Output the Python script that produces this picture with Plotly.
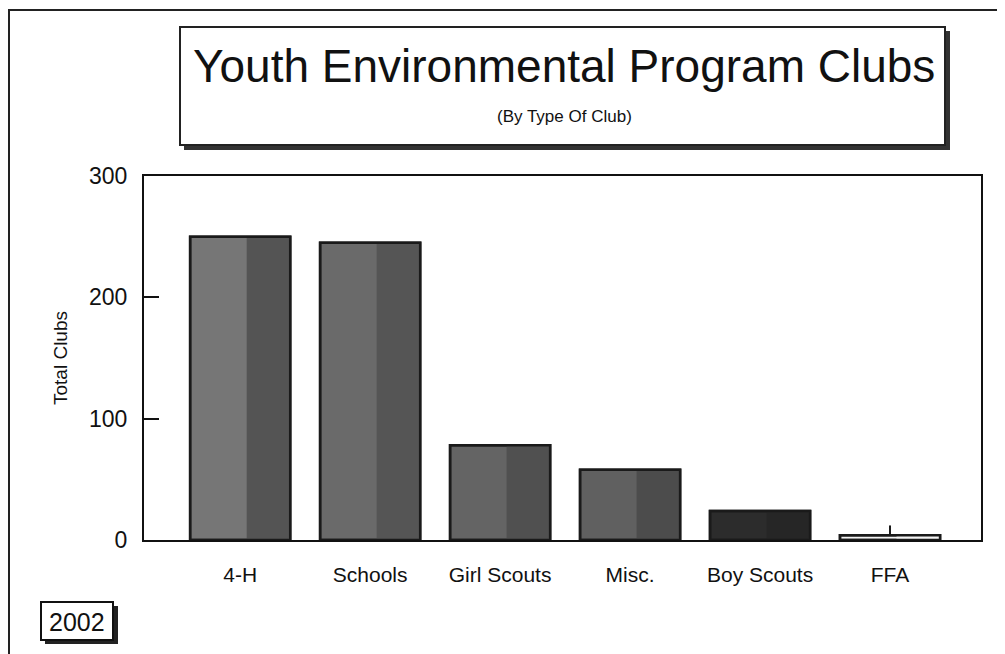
import plotly.graph_objects as go

categories = ["4-H", "Schools", "Girl Scouts", "Misc.", "Boy Scouts", "FFA"]
total_clubs = [250, 245, 78, 58, 24, 4]
top_whisker = [0, 0, 0, 0, 0, 8]
y_ticks = [0, 100, 200, 300]

light_colors = ["#767676", "#6a6a6a", "#646464", "#606060", "#2c2c2c", "#f4f4f4"]
dark_colors = ["#545454", "#555555", "#505050", "#4c4c4c", "#262626", "#f4f4f4"]

FONT = "Liberation Sans, Arial, Helvetica, sans-serif"

# page body has an 8px margin: figure is drawn offset by 8px
OFF = 8
W, H = 1005, 654
L, R, T, B = 144 - OFF, W - (981 - OFF), 176 - OFF, H - (540 - OFF)
pw, ph = W - L - R, H - T - B


def px(x):
    return (x - OFF - L) / pw


def py(y):
    return (T + ph - (y - OFF)) / ph


fig = go.Figure()
fig.add_trace(go.Bar(
    x=categories, y=total_clubs, width=0.77, offset=-0.385,
    marker=dict(color=light_colors, line=dict(color="#1a1a1a", width=2.5)),
    showlegend=False, hoverinfo="x+y",
))
fig.add_trace(go.Bar(
    x=categories, y=total_clubs, width=0.33, offset=0.05,
    marker=dict(color=dark_colors, line=dict(width=0)),
    showlegend=False, hoverinfo="skip",
))
fig.add_trace(go.Bar(
    x=categories, y=total_clubs, width=0.77, offset=-0.385,
    marker=dict(color="rgba(0,0,0,0)", line=dict(color="#1a1a1a", width=2.5)),
    error_y=dict(type="data", array=top_whisker, arrayminus=[0] * len(top_whisker),
                 width=0, thickness=2, color="#1a1a1a"),
    showlegend=False, hoverinfo="skip",
))

fig.update_layout(
    width=W, height=H,
    margin=dict(l=L, r=R, t=T, b=B),
    paper_bgcolor="white", plot_bgcolor="white",
    barmode="overlay",
    font=dict(family=FONT, color="#111111"),
    xaxis=dict(
        range=[-0.74, 5.7], showline=True, linecolor="#111111", linewidth=2,
        mirror=True, ticks="", showgrid=False,
        tickfont=dict(size=21, family=FONT), ticklabelstandoff=15,
    ),
    yaxis=dict(
        range=[0, 300], tickvals=y_ticks, showline=True, linecolor="#111111",
        linewidth=2, mirror=True, ticks="inside", ticklen=15, tickwidth=2,
        tickcolor="#111111", showgrid=False, zeroline=False,
        tickfont=dict(size=23, family=FONT), ticklabelstandoff=10,
        title=dict(text="Total Clubs", font=dict(size=19, family=FONT), standoff=16),
    ),
)

shapes = [
    # page border top and left
    dict(type="line", x0=px(8), x1=px(1010), y0=py(10), y1=py(10), line=dict(color="#222", width=2)),
    dict(type="line", x0=px(9), x1=px(9), y0=py(10), y1=py(660), line=dict(color="#222", width=2)),
    # title box with shadow
    dict(type="rect", x0=px(184), x1=px(950), y0=py(31), y1=py(150), fillcolor="#333", line=dict(width=0)),
    dict(type="rect", x0=px(180), x1=px(945), y0=py(27), y1=py(145), fillcolor="white",
         line=dict(color="#222", width=2)),
    # 2002 box with shadow
    dict(type="rect", x0=px(45), x1=px(118), y0=py(606), y1=py(644), fillcolor="#222", line=dict(width=0)),
    dict(type="rect", x0=px(41), x1=px(113), y0=py(602), y1=py(640), fillcolor="white",
         line=dict(color="#111", width=2)),
]
for s in shapes:
    s.update(xref="paper", yref="paper", layer="above")
fig.update_layout(shapes=shapes)

fig.add_annotation(x=px(564), y=py(66), xref="paper", yref="paper", text="Youth Environmental Program Clubs",
                   showarrow=False, font=dict(size=46, family=FONT, color="#111"), xanchor="center", yanchor="middle")
fig.add_annotation(x=px(564), y=py(117), xref="paper", yref="paper", text="(By Type Of Club)",
                   showarrow=False, font=dict(size=17, family=FONT, color="#111"), xanchor="center", yanchor="middle")
fig.add_annotation(x=px(77), y=py(622), xref="paper", yref="paper", text="2002",
                   showarrow=False, font=dict(size=25, family=FONT, color="#111"), xanchor="center", yanchor="middle")

fig.write_html("out.html")
